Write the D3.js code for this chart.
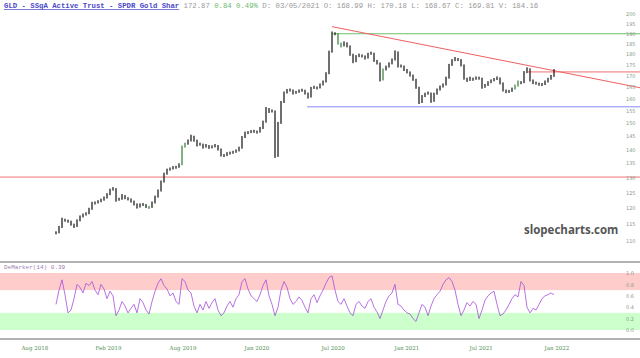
<!DOCTYPE html>
<html>
<head>
<meta charset="utf-8">
<script src="https://cdn.jsdelivr.net/npm/d3@7"></script>
<style>
body { margin: 0; background: #fff; }
svg { display: block; }
</style>
</head>
<body>
<div id="chart"></div>
<script>
// weekly-ish closes, one per bar
var priceCloses = [112.4,114.0,116.5,116.2,115.9,115.0,114.3,116.0,117.2,117.8,
    118.2,119.6,121.5,121.6,122.0,122.5,123.2,124.3,125.8,126.3,
    122.5,122.8,124.0,123.3,122.9,122.2,121.3,120.3,121.0,121.1,
    120.5,120.2,121.6,123.5,125.5,128.5,131.2,132.6,133.0,133.5,
    133.6,134.5,140.9,142.0,143.2,145.0,143.5,141.7,142.0,140.9,
    141.5,140.8,141.0,141.5,140.2,138.0,137.8,138.5,138.7,139.0,
    139.5,140.5,144.5,146.2,146.4,146.8,146.9,146.6,148.0,150.5,
    156.0,154.8,155.0,137.5,150.0,158.5,162.5,163.6,163.8,162.5,
    162.8,163.4,163.7,162.5,160.8,164.5,165.0,164.7,166.0,167.3,
    171.0,181.0,190.4,190.0,185.4,184.0,185.5,184.0,180.0,176.5,
    178.9,179.6,179.2,178.2,180.0,180.5,177.1,175.9,168.2,172.7,
    174.0,175.5,177.3,181.1,174.5,174.5,172.9,171.8,170.4,168.5,
    165.0,158.5,161.0,162.0,162.5,159.0,162.0,163.8,165.1,166.0,
    169.0,174.8,177.0,178.0,177.5,175.0,169.0,168.0,169.0,168.5,
    169.1,169.0,165.0,165.8,167.0,167.8,168.4,169.1,166.9,163.8,
    163.1,163.2,164.2,165.5,167.3,167.0,171.5,173.2,168.2,167.0,
    166.8,166.3,166.2,167.3,168.5,169.8,172.4];
var greenBars = [31, 42, 43, 94, 95, 109, 153, 154];

var deMarker = [0.45,0.7,0.88,0.62,0.3,0.35,0.55,0.8,0.75,0.65,
    0.82,0.78,0.85,0.7,0.62,0.8,0.72,0.55,0.68,0.6,
    0.25,0.35,0.5,0.42,0.3,0.38,0.45,0.3,0.55,0.48,
    0.35,0.28,0.5,0.68,0.82,0.9,0.78,0.72,0.6,0.65,
    0.5,0.45,0.9,0.85,0.7,0.65,0.42,0.3,0.45,0.35,
    0.5,0.38,0.48,0.55,0.35,0.25,0.3,0.42,0.5,0.4,
    0.55,0.62,0.85,0.9,0.72,0.6,0.55,0.5,0.62,0.78,
    0.88,0.6,0.45,0.25,0.4,0.7,0.85,0.75,0.55,0.45,
    0.5,0.58,0.52,0.4,0.3,0.55,0.62,0.48,0.6,0.7,
    0.82,0.92,0.95,0.7,0.5,0.45,0.55,0.42,0.3,0.25,
    0.45,0.5,0.42,0.38,0.5,0.55,0.4,0.32,0.2,0.35,
    0.5,0.6,0.65,0.8,0.45,0.42,0.35,0.3,0.28,0.2,
    0.15,0.3,0.45,0.4,0.25,0.42,0.55,0.62,0.68,0.8,
    0.88,0.92,0.85,0.7,0.45,0.25,0.35,0.48,0.42,0.5,
    0.45,0.2,0.35,0.52,0.6,0.65,0.68,0.45,0.25,0.28,
    0.35,0.45,0.55,0.62,0.58,0.85,0.78,0.4,0.3,0.38,
    0.35,0.45,0.55,0.6,0.62,0.65,0.62];

var priceTicks = [110,115,120,125,130,135,140,145,150,155,160,165,170,175,180,185,190,195,200];
var demTicks = [0, 0.2, 0.4, 0.6, 0.8, 1.0];
var demBands = [[0.7, 1.0], [0, 0.3]];

// bar index of each date label, and its text
var dateTickIdx = [-11.7, 13, 37.7, 62.7, 88.3, 112.7, 137.7, 162.7];
var dateTickLabels = ["Aug 2018", "Feb 2019", "Aug 2019", "Jan 2020", "Jul 2020", "Jan 2021", "Jul 2021", "Jan 2022"];

// drawn levels: [value, starting bar index]
var levelRedLow = [130.2, -19];
var levelGreen = [190, 92];
var levelBlue = [156.7, 83.7];
var levelRedHigh = [171.8, 157.3];
var trendLine = [[92, 193.6], [195, 164.7]];

var W = 640, H = 358;

var svg = d3.select("#chart")
    .append("svg")
    .attr("width", W)
    .attr("height", H)
    .style("background", "#fff");

var x = d3.scaleLinear().domain([0, priceCloses.length - 1]).range([56, 554]);
var y = d3.scaleLog().domain([110, 200]).range([241, 14.3]);
var dy = d3.scaleLinear().domain([0, 1]).range([330, 273]);

// deMarker bands
demBands.forEach(function(b, i) {
    svg.append("rect")
        .attr("x", 0)
        .attr("width", W)
        .attr("y", dy(b[1]))
        .attr("height", dy(b[0]) - dy(b[1]))
        .attr("fill", i == 0 ? "#ffcccc" : "#ccffcc");
});

// panel separators
[262, 339].forEach(function(py) {
    svg.append("line")
        .attr("x1", 0).attr("x2", W)
        .attr("y1", py).attr("y2", py)
        .attr("stroke", "#999")
        .attr("stroke-width", 1.5);
});

// horizontal levels
function level(lv, color) {
    svg.append("line")
        .attr("x1", Math.max(0, x(lv[1]))).attr("x2", W)
        .attr("y1", y(lv[0])).attr("y2", y(lv[0]))
        .attr("stroke", color)
        .attr("stroke-width", 1);
}
level(levelRedLow, "#f07070");
level(levelGreen, "#6cc06c");
level(levelBlue, "#8888ff");
level(levelRedHigh, "#f07070");

svg.append("line")
    .attr("x1", x(trendLine[0][0])).attr("y1", y(trendLine[0][1]))
    .attr("x2", x(trendLine[1][0])).attr("y2", y(trendLine[1][1]))
    .attr("stroke", "#f06060")
    .attr("stroke-width", 1);

// price bars
function barTop(d, i) {
    var p = i > 0 ? priceCloses[i - 1] : d;
    return Math.min(y(Math.max(p, d)), y(d) - 1) - 0.5;
}
function barBot(d, i) {
    var p = i > 0 ? priceCloses[i - 1] : d;
    return Math.max(y(Math.min(p, d)), y(d) + 1) + 0.5;
}
svg.append("g").selectAll("rect")
    .data(priceCloses)
    .enter().append("rect")
    .attr("x", function(d, i) { return x(i) - 0.6; })
    .attr("width", 1.2)
    .attr("y", barTop)
    .attr("height", function(d, i) { return barBot(d, i) - barTop(d, i); })
    .attr("fill", function(d, i) { return greenBars.indexOf(i) >= 0 ? "#2e7d32" : "#111"; });

// deMarker line
svg.append("path")
    .datum(deMarker)
    .attr("fill", "none")
    .attr("stroke", "#a64ed8")
    .attr("stroke-width", 0.8)
    .attr("d", d3.line()
        .x(function(d, i) { return x(i); })
        .y(function(d) { return dy(d); }));

// right axes
var yAxis = svg.append("g")
    .attr("transform", "translate(626,0)")
    .call(d3.axisRight(y).tickValues(priceTicks).tickSize(0).tickPadding(0).tickFormat(d3.format("d")));
var dAxis = svg.append("g")
    .attr("transform", "translate(626,0)")
    .call(d3.axisRight(dy).tickValues(demTicks).tickSize(0).tickPadding(0).tickFormat(d3.format(".1f")));
[yAxis, dAxis].forEach(function(g) {
    g.select(".domain").remove();
    g.selectAll("text")
        .attr("font-size", "5px")
        .attr("font-family", "DejaVu Sans")
        .attr("fill", "#8a9a8a");
});

// date axis
var xAxis = svg.append("g")
    .attr("transform", "translate(0,346)")
    .call(d3.axisBottom(x).tickValues(dateTickIdx).tickSize(0).tickPadding(0)
        .tickFormat(function(d, i) { return dateTickLabels[i]; }));
xAxis.select(".domain").remove();
xAxis.selectAll("text")
    .attr("text-anchor", "start")
    .attr("font-size", "5.5px")
    .attr("font-family", "DejaVu Serif")
    .attr("fill", "#4f8f4f");

// header
var head = svg.append("text")
    .attr("x", 4)
    .attr("y", 8)
    .attr("font-family", "Liberation Mono")
    .attr("font-size", "7.3px");
head.append("tspan")
    .attr("fill", "#4a4ac8")
    .attr("font-weight", "bold")
    .attr("text-decoration", "underline")
    .text("GLD - SSgA Active Trust - SPDR Gold Shar");
head.append("tspan").attr("fill", "#999").text(" 172.87");
head.append("tspan").attr("fill", "#6fb86f").text(" 0.84 0.49%");
head.append("tspan").attr("fill", "#999").text(" D: 03/05/2021 O: 168.99 H: 170.18 L: 168.67 C: 169.81 V: 184.16");

svg.append("text")
    .attr("x", 4)
    .attr("y", 269)
    .attr("font-family", "Liberation Mono")
    .attr("font-size", "6px")
    .attr("fill", "#9a80b0")
    .text("DeMarker(14) 0.39");

svg.append("text")
    .attr("x", 524)
    .attr("y", 234)
    .attr("font-family", "Open Sans")
    .attr("font-weight", "bold")
    .attr("font-size", "11.5px")
    .attr("fill", "#555")
    .text("slopecharts.com");
</script>
</body>
</html>
